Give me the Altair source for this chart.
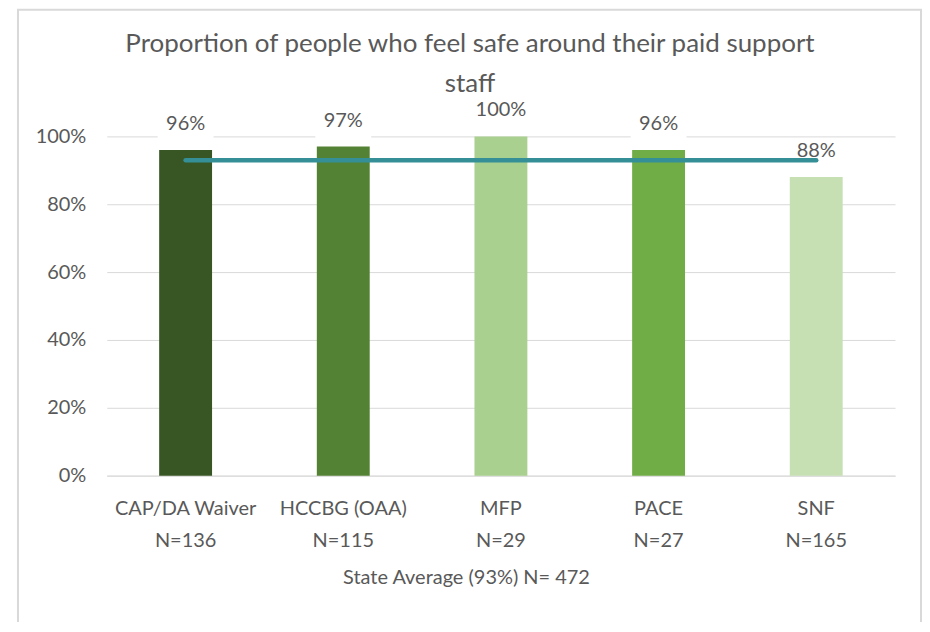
import altair as alt
import pandas as pd

categories = ["CAP/DA Waiver", "HCCBG (OAA)", "MFP", "PACE", "SNF"]
n_values = ["N=136", "N=115", "N=29", "N=27", "N=165"]
values = [0.96, 0.97, 1.00, 0.96, 0.88]
state_avg = 0.93
bar_colors = ["#375623", "#548235", "#a9d08e", "#70ad47", "#c6e0b4"]

labels = [f"{c}|{n}" for c, n in zip(categories, n_values)]
df = pd.DataFrame({"cat": labels, "value": values, "avg": [state_avg] * len(labels)})

FONT = "Lato"
TXT = "#595959"
GRID = "#d9d9d9"

x_enc = alt.X("cat:N", sort=labels, scale=alt.Scale(paddingInner=0, paddingOuter=0),
              axis=alt.Axis(labelAngle=0, labelExpr="split(datum.label, '|')",
                            labelLineHeight=32, labelPadding=23, labelFontSize=20,
                            labelColor=TXT, labelFont=FONT, domainColor=GRID, ticks=False,
                            title="State Average (93%) N= 472", titleFontSize=20,
                            titleFontWeight="normal", titleColor=TXT, titleFont=FONT,
                            titleX=360, titleY=102, titleBaseline="middle", titleAlign="center"))
y_scale = alt.Scale(domain=[0, 1])
y_axis = alt.Axis(values=[0, 0.2, 0.4, 0.6, 0.8, 1.0], format=".0%", gridColor=GRID,
                  domain=False, ticks=False, labelPadding=21, labelFontSize=20,
                  labelColor=TXT, labelFont=FONT, title=None)

frame = alt.Chart(alt.Data(values=[{"a": 1}])).mark_rect(
    fill="white", fillOpacity=0, stroke=GRID, strokeWidth=2, clip=False
).encode(x=alt.value(-89), x2=alt.value(816), y=alt.value(-127), y2=alt.value(600))

bars = alt.Chart(df).mark_bar(size=53).encode(
    x=x_enc,
    y=alt.Y("value:Q", scale=y_scale, axis=y_axis),
    color=alt.Color("cat:N", sort=labels, scale=alt.Scale(domain=labels, range=bar_colors), legend=None),
)

boxes = alt.Chart(df).mark_bar(size=56, color="white", yOffset=-38, y2Offset=-8).encode(
    x=alt.X("cat:N", sort=labels), y=alt.Y("value:Q", scale=y_scale), y2="value:Q"
)

texts = alt.Chart(df).mark_text(dy=-26, baseline="middle", fontSize=20, color=TXT, font=FONT).encode(
    x=alt.X("cat:N", sort=labels), y=alt.Y("value:Q", scale=y_scale),
    text=alt.Text("value:Q", format=".0%"),
)

line = alt.Chart(df).mark_line(color="#348f96", strokeWidth=4.5, strokeCap="round").encode(
    x=alt.X("cat:N", sort=labels), y=alt.Y("avg:Q", scale=y_scale)
)

chart = alt.layer(frame, bars, boxes, texts, line).properties(
    width=790, height=340,
    title=alt.TitleParams(
        text=["Proportion of people who feel safe around their paid support", "staff"],
        fontSize=26, lineHeight=41, color=TXT, font=FONT, fontWeight="normal",
        anchor="middle", dx=-31, baseline="bottom", offset=0, dy=115,
    ),
    autosize=alt.AutoSizeParams(type="none"),
    padding={"left": 99, "top": 128, "right": 27, "bottom": 146},
    background="white",
).configure_view(stroke=None)

chart.save("out.html", embed_options={"renderer": "svg", "actions": False})
